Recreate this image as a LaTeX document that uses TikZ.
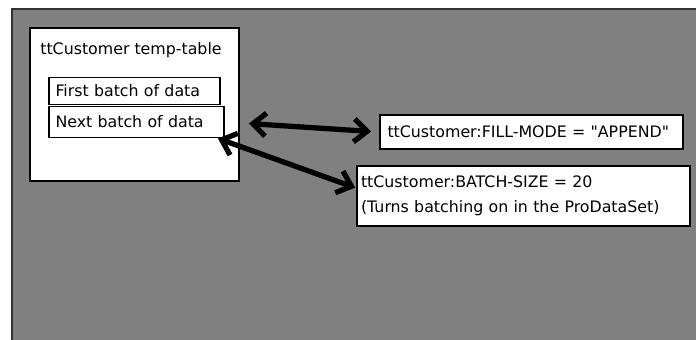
\documentclass[tikz,border=0pt]{standalone}
\usepackage{fontspec}
\setmainfont{DejaVu Sans}
\usepackage{tikz}
\usetikzlibrary{calc, arrows.meta, positioning}
\usepackage{xcolor}
\definecolor{slate}{gray}{0.5}

\begin{document}
\begin{tikzpicture}[x=0.02cm, y=-0.02cm, >={Straight Barb[length=2.6mm, width=4.6mm]}]
				\tikzstyle{box} = [draw=black, line width=1.1pt, fill=white, inner sep=0pt, align=left, font=\fontsize{9}{14}\selectfont]
				\tikzstyle{invis} = [draw=none, font=\fontsize{9}{14}\selectfont]
				\tikzstyle{link} = [line width=3pt, black]
				
				% canvas
				\useasboundingbox (0,0) rectangle (696,339);
				\draw[fill=slate, draw=black!80, line width=1.2pt] (12,9) rectangle (710,350);
				
				\node[box, minimum width=4.18cm, minimum height=3.06cm]		at (134.5,104.5)	(tbl)	{};
				\node[invis]			at (131,50)		(title)	{ttCustomer temp-table};
				\node[box, text width=3.16cm, minimum height=0.54cm, inner xsep=0.13cm]		at (134.5,91)	(first)	{First batch of data};
				\node[box, text width=3.24cm, minimum height=0.62cm, inner xsep=0.13cm]		at (136.5,122)	(next)	{Next batch of data};
				\node[box, text width=5.76cm, minimum height=0.68cm, inner xsep=0.15cm]		at (531.5,132)	(fill)	{ttCustomer:FILL-MODE = \textquotedbl APPEND\textquotedbl};
				\node[box, text width=6.5cm, minimum height=1.2cm, inner xsep=0.08cm]	at (523.5,196)	(batch)	{ttCustomer:BATCH-SIZE = 20\\(Turns batching on in the ProDataSet)};
				
				\path[<->, link]
				(next.east)	edge [shorten <=0.48cm, shorten >=0.16cm]	(fill.west)
				([xshift=-0.14cm]next.south east)	edge [shorten >=0.02cm]	([yshift=0.16cm]batch.west);
			\end{tikzpicture}
\end{document}
